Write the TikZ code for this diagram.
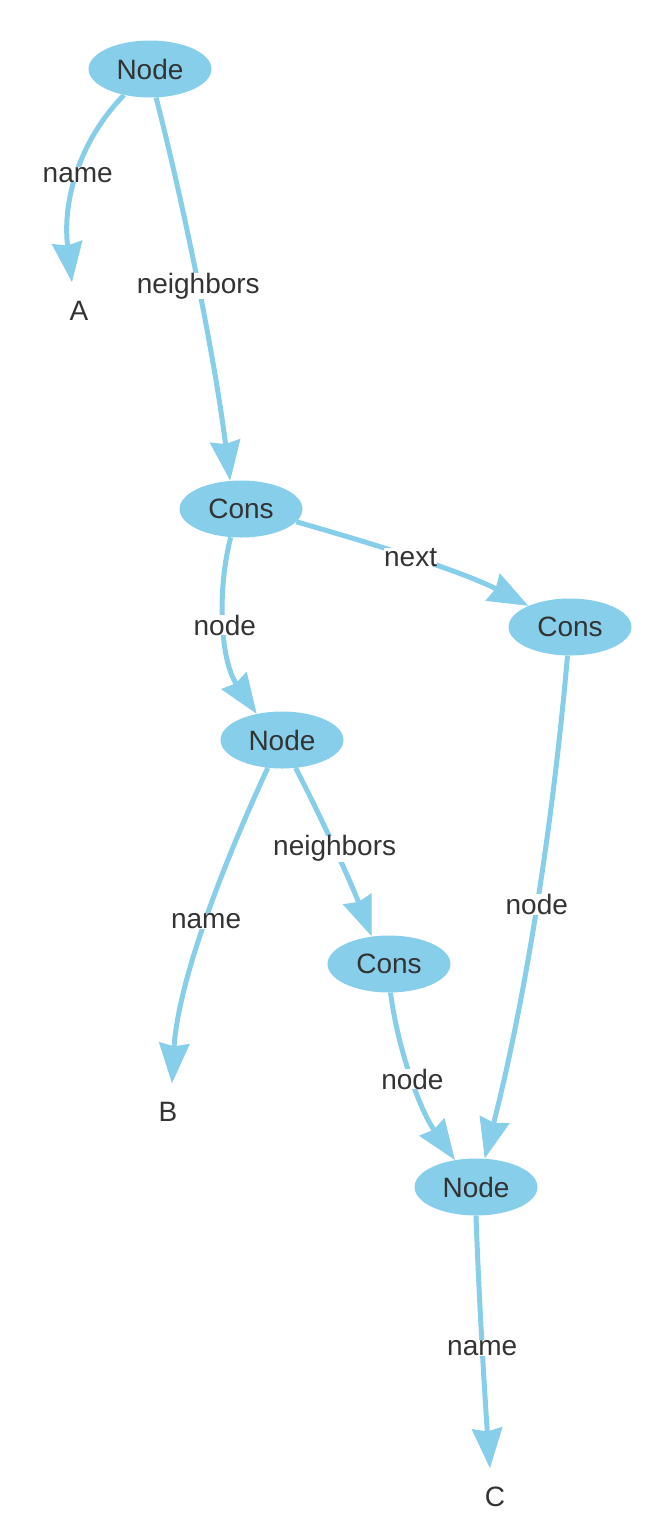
\documentclass[tikz,border=0pt]{standalone}
\usepackage{fontspec}
\setmainfont{Liberation Sans}
\usetikzlibrary{arrows.meta,shapes.geometric}
\definecolor{sky}{HTML}{87CEEB}
\definecolor{ink}{HTML}{333333}
\tikzset{
  obj/.style={ellipse, fill=sky, draw=none, minimum width=123pt, minimum height=57pt, inner sep=0pt, text=ink, font=\fontsize{28}{33}\selectfont},
  val/.style={draw=none, minimum width=40pt, minimum height=57pt, inner sep=0pt, text=ink, font=\fontsize{28}{33}\selectfont},
  edge/.style={draw=sky, line width=5pt, -{Stealth[length=40pt,width=30pt,inset=3pt]}},
  lab/.style={fill=white, inner sep=0pt, text=ink, font=\fontsize{28}{33}\selectfont}
}
\begin{document}
\begin{tikzpicture}[x=1pt,y=-1pt]
\useasboundingbox (0,0) rectangle (666,1540);
\node[obj] (n1) at (150,69) {Node};
\node[val] (a) at (79,311) {A};
\node[obj] (c1) at (241,509) {Cons};
\node[obj] (c2) at (570,627) {Cons};
\node[obj] (n2) at (282,740) {Node};
\node[val] (b) at (168,1112) {B};
\node[obj] (c3) at (389,964) {Cons};
\node[obj] (n3) at (476,1187) {Node};
\node[val] (c) at (495,1497) {C};

\draw[edge] (n1.225) .. controls (80,140) and (62,200) .. ([xshift=-7pt]a.north)
  node[lab, pos=0.5] {name};
\draw[edge] (n1.282) .. controls (185,210) and (215,360) .. (c1.111)
  node[lab, pos=0.5] {neighbors};
\draw[edge] (c1.-13) .. controls (360,540) and (460,570) .. (c2.153)
  node[lab, pos=0.5] {next};
\draw[edge] (c1.250) .. controls (217,590) and (220,660) .. (n2.134)
  node[lab, pos=0.5] {node};
\draw[edge] (c2.265) .. controls (555,800) and (530,980) .. (n3.73)
  node[lab, pos=0.52] {node};
\draw[edge] (n2.243) .. controls (225,860) and (178,980) .. ([xshift=4pt]b.north)
  node[lab, pos=0.5] {name};
\draw[edge] (n2.296) .. controls (320,815) and (350,880) .. (c3.122)
  node[lab, pos=0.5] {neighbors};
\draw[edge] (c3.273) .. controls (398,1050) and (420,1110) .. (n3.128)
  node[lab, pos=0.5] {node};
\draw[edge] (n3.270) .. controls (479,1300) and (485,1400) .. ([xshift=-5pt]c.north)
  node[lab, pos=0.5] {name};
\end{tikzpicture}
\end{document}
